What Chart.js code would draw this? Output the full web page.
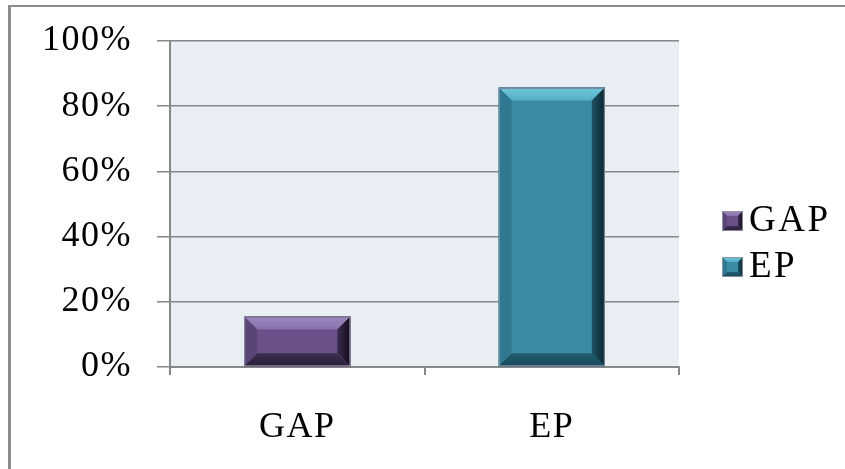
<!DOCTYPE html>
<html>
<head>
<meta charset="utf-8">
<script src="https://cdn.jsdelivr.net/npm/chart.js@4.4.1/dist/chart.umd.min.js"></script>
<style>
html,body{margin:0;padding:0;background:#fff;}
canvas{display:block;}
</style>
</head>
<body>
<canvas id="c" width="845" height="469"></canvas>
<script>
// ---- data ----
const categories = ['GAP', 'EP'];
const seriesNames = ['GAP', 'EP'];
const gapValues = [15.5, null];
const epValues = [null, 85.7];
const yTicks = [0, 20, 40, 60, 80, 100];

// ---- styles ----
const FONT = '"Liberation Serif", "Times New Roman", serif';
const palette = {
  GAP: {face:'#6a5089', top:'#8a70ab', topHi:'#9a84ba', left:'#5b4578', right1:'#3a2b4e', right2:'#120c1a', bottom:'#3c2e50', bottom2:'#2a1f39', edge:'#4a3a60'},
  EP:  {face:'#3a8ca2', top:'#55aec4', topHi:'#6cc4d8', left:'#2f7890', right1:'#1d5364', right2:'#0b2530', bottom:'#215d70', bottom2:'#17495a', edge:'#2a5a80'}
};
const GRID = '#878787';

function bevelRect(ctx, l, t, r, b, pal, bv) {
  const bot = b;
  ctx.save();
  ctx.fillStyle = pal.face;
  ctx.fillRect(l, t, r - l, bot - t);
  let g = ctx.createLinearGradient(0, t, 0, t + bv);
  g.addColorStop(0, pal.edge); g.addColorStop(0.15, pal.topHi); g.addColorStop(1, pal.top);
  ctx.fillStyle = g;
  ctx.beginPath(); ctx.moveTo(l, t); ctx.lineTo(r, t); ctx.lineTo(r - bv, t + bv); ctx.lineTo(l + bv, t + bv); ctx.closePath(); ctx.fill();
  ctx.fillStyle = pal.left;
  ctx.beginPath(); ctx.moveTo(l, t); ctx.lineTo(l + bv, t + bv); ctx.lineTo(l + bv, bot - bv); ctx.lineTo(l, bot); ctx.closePath(); ctx.fill();
  g = ctx.createLinearGradient(r - bv, 0, r, 0);
  g.addColorStop(0, pal.right1); g.addColorStop(1, pal.right2);
  ctx.fillStyle = g;
  ctx.beginPath(); ctx.moveTo(r, t); ctx.lineTo(r, bot); ctx.lineTo(r - bv, bot - bv); ctx.lineTo(r - bv, t + bv); ctx.closePath(); ctx.fill();
  g = ctx.createLinearGradient(0, bot - bv, 0, bot);
  g.addColorStop(0, pal.bottom); g.addColorStop(1, pal.bottom2);
  ctx.fillStyle = g;
  ctx.beginPath(); ctx.moveTo(l, bot); ctx.lineTo(r, bot); ctx.lineTo(r - bv, bot - bv); ctx.lineTo(l + bv, bot - bv); ctx.closePath(); ctx.fill();
  ctx.strokeStyle = 'rgba(150,150,165,0.9)';
  ctx.lineWidth = 1;
  ctx.strokeRect(l + 0.5, t + 0.5, r - l - 1, bot - t - 1);
  ctx.restore();
}

const SPACING = '1.5px';
const decor = {
  id: 'decor',
  beforeLayout(chart) { chart.ctx.letterSpacing = SPACING; },
  beforeDraw(chart) {
    const ctx = chart.ctx, a = chart.chartArea;
    ctx.letterSpacing = SPACING;
    ctx.save();
    ctx.fillStyle = '#fff';
    ctx.fillRect(0, 0, chart.width, chart.height);
    ctx.fillStyle = '#e9edf4';
    ctx.fillRect(a.left, a.top, a.right - a.left, a.bottom - a.top);
    ctx.fillStyle = '#8c8c8c';
    ctx.fillRect(8, 5, chart.width - 8, 2);
    ctx.fillRect(8, 5, 3, chart.height - 5);
    ctx.restore();
  },
  afterDatasetsDraw(chart) {
    const ctx = chart.ctx;
    chart.data.datasets.forEach((ds, i) => {
      const meta = chart.getDatasetMeta(i);
      meta.data.forEach((el, j) => {
        if (ds.data[j] == null) return;
        const p = el.getProps(['x', 'y', 'base', 'width'], true);
        bevelRect(ctx, p.x - p.width / 2, p.y, p.x + p.width / 2, p.base, palette[ds.label], 13);
      });
    });
  },
  afterDraw(chart) {
    const ctx = chart.ctx, a = chart.chartArea;
    const boxX = a.right + 43;
    const midY = (a.top + a.bottom) / 2 + 40;
    const step = 46;
    const n = chart.data.datasets.length;
    ctx.save();
    ctx.letterSpacing = '2.5px';
    chart.data.datasets.forEach((ds, i) => {
      const cy = midY + (i - (n - 1) / 2) * step;
      bevelRect(ctx, boxX, cy - 10, boxX + 21, cy + 10, palette[ds.label], 5);
      ctx.fillStyle = '#000';
      ctx.font = '37px ' + FONT;
      ctx.textBaseline = 'middle';
      ctx.textAlign = 'left';
      ctx.fillText(ds.label, boxX + 27, cy);
    });
    ctx.restore();
  }
};

new Chart(document.getElementById('c'), {
  type: 'bar',
  data: {
    labels: categories,
    datasets: [
      { label: seriesNames[0], data: gapValues, backgroundColor: palette.GAP.face, skipNull: true },
      { label: seriesNames[1], data: epValues, backgroundColor: palette.EP.face, skipNull: true }
    ]
  },
  options: {
    responsive: false,
    devicePixelRatio: 1,
    animation: false,
    layout: { padding: { left: 0, top: 41, right: 166, bottom: 0 } },
    datasets: { bar: { categoryPercentage: 1, barPercentage: 0.417, grouped: false } },
    plugins: { legend: { display: false }, tooltip: { enabled: false } },
    scales: {
      x: {
        afterFit: s => { s.height = 102; s.paddingLeft = 0; s.paddingRight = 0; },
        grid: { display: true, drawOnChartArea: false, drawTicks: true, tickLength: 8, color: GRID, lineWidth: 2, offset: true },
        border: { display: true, color: GRID, width: 2 },
        ticks: { color: '#000', font: { family: FONT, size: 36 }, padding: 31 }
      },
      y: {
        min: 0, max: 100,
        afterFit: s => { s.width = 170; s.paddingTop = 0; s.paddingBottom = 0; },
        afterBuildTicks: s => { s.ticks = yTicks.map(v => ({ value: v })); },
        grid: { color: GRID, lineWidth: 1.5, tickLength: 13 },
        border: { display: true, color: GRID, width: 2 },
        ticks: { color: '#000', font: { family: FONT, size: 36 }, padding: 25, callback: v => v + '%' }
      }
    }
  },
  plugins: [decor]
});
</script>
</body>
</html>
